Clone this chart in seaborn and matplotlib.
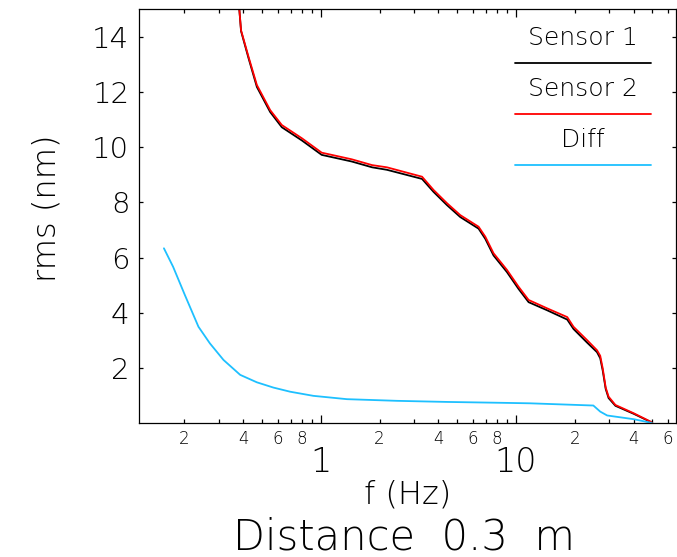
import math
import matplotlib
matplotlib.use("Agg")
import matplotlib.pyplot as plt
from matplotlib.ticker import FixedLocator, FuncFormatter
import pandas as pd
import seaborn as sns

# Cumulative rms (nm) versus frequency (Hz) for the two sensors
freq = [0.38, 0.39, 0.426, 0.47, 0.55, 0.631, 0.80, 1.01, 1.44, 1.83, 2.18,
        3.30, 3.78, 4.43, 5.18, 6.43, 6.96, 7.67, 8.98, 10.3, 11.6, 14.4,
        18.3, 19.7, 23.1, 26.0, 27.0, 27.8, 28.8, 29.8, 32.3, 40.1, 48.8, 50.0]
sensor1 = [15.2, 14.20, 13.22, 12.18, 11.27, 10.72, 10.24, 9.72, 9.48, 9.27, 9.18,
           8.85, 8.38, 7.90, 7.47, 7.05, 6.68, 6.08, 5.48, 4.87, 4.39, 4.10,
           3.76, 3.42, 2.93, 2.58, 2.36, 1.92, 1.25, 0.92, 0.64, 0.35, 0.06, 0.0]
sensor2 = [15.2, 14.23, 13.27, 12.25, 11.34, 10.80, 10.32, 9.80, 9.56, 9.35, 9.27,
           8.93, 8.45, 7.97, 7.54, 7.12, 6.76, 6.16, 5.56, 4.95, 4.47, 4.17,
           3.85, 3.50, 3.02, 2.65, 2.45, 2.00, 1.30, 0.97, 0.67, 0.37, 0.07, 0.0]

# Cumulative rms of the difference signal
freq_diff = [0.157, 0.175, 0.201, 0.236, 0.270, 0.317, 0.386, 0.470, 0.571, 0.696,
             0.916, 1.36, 2.45, 4.43, 8.98, 11.8, 24.9, 27.0, 29.3, 40.1, 48.8, 50.0]
diff = [6.34, 5.67, 4.65, 3.50, 2.90, 2.30, 1.76, 1.49, 1.30, 1.15,
        1.00, 0.88, 0.82, 0.78, 0.745, 0.73, 0.65, 0.43, 0.29, 0.155, 0.03, 0.0]

series_names = ["Sensor 1", "Sensor 2", "Diff"]
series_colors = ["#000000", "#ff0000", "#1ec0ff"]

y_ticks = [2, 4, 6, 8, 10, 12, 14]
x_major = [1, 10]
x_minor = [0.2, 0.3, 0.4, 0.5, 0.6, 0.7, 0.8, 0.9,
           2, 3, 4, 5, 6, 7, 8, 9, 20, 30, 40, 50, 60]

sns.set_style("ticks")
plt.rcParams["font.family"] = ["DejaVu Sans"]
plt.rcParams["font.weight"] = 200
plt.rcParams["axes.labelweight"] = 200
for key in ("text.color", "axes.labelcolor", "xtick.color", "ytick.color",
            "xtick.labelcolor", "ytick.labelcolor"):
    plt.rcParams[key] = "black"

fig = plt.figure(figsize=(6.77, 5.57), dpi=100)
ax = fig.add_axes([0.2053, 0.2397, 0.7932, 0.7442])

df = pd.DataFrame({"f": freq, "s1": sensor1, "s2": sensor2})
dd = pd.DataFrame({"f": freq_diff, "d": diff})
sns.lineplot(data=df, x="f", y="s1", color=series_colors[0], lw=1.3, ax=ax,
             estimator=None, sort=False)
sns.lineplot(data=df, x="f", y="s2", color=series_colors[1], lw=1.3, ax=ax,
             estimator=None, sort=False)
sns.lineplot(data=dd, x="f", y="d", color=series_colors[2], lw=1.3, ax=ax,
             estimator=None, sort=False)

ax.set_xscale("log")
ax.set_xlim(0.117, 66)
ax.set_ylim(0, 15)

ax.set_yticks(y_ticks)
ax.set_yticklabels([str(v) for v in y_ticks])
ax.xaxis.set_major_locator(FixedLocator(x_major))
ax.xaxis.set_major_formatter(FuncFormatter(lambda v, p: f"{v:g}"))
ax.xaxis.set_minor_locator(FixedLocator(x_minor))


def minor_label(v, p):
    lead = int(round(v / 10 ** math.floor(math.log10(v))))
    return str(lead) if lead in (2, 4, 6, 8) else ""


ax.xaxis.set_minor_formatter(FuncFormatter(minor_label))

for s in ax.spines.values():
    s.set_visible(True)
    s.set_linewidth(0.9)
    s.set_color("black")

ax.tick_params(axis="both", which="both", direction="in", top=True, right=True,
               color="black", width=0.9)
ax.tick_params(axis="x", which="major", length=6, pad=16.5, labelsize=24)
ax.tick_params(axis="x", which="minor", length=3.2, pad=5, labelsize=12)
ax.tick_params(axis="y", which="major", length=2.6, pad=7, labelsize=21)
ax.tick_params(axis="y", which="minor", length=0)

ax.set_xlabel("f (Hz)", fontsize=23, fontweight=200)
ax.xaxis.label.set_verticalalignment("baseline")
ax.xaxis.set_label_coords(0.5, -0.192)
ax.set_ylabel("rms (nm)", fontsize=23, fontweight=200)
ax.yaxis.label.set_verticalalignment("center")
ax.yaxis.set_label_coords(-0.172, 0.52)

fig.text(0.597, 0.0126, "Distance  0.3  m", fontsize=30, ha="center",
         va="baseline", fontweight=200)

# Legend: label text centred above a short sample line
text_y = [0.930, 0.807, 0.684]
line_y = [0.870, 0.747, 0.624]
for name, col, ty, ly in zip(series_names, series_colors, text_y, line_y):
    ax.text(0.827, ty, name, transform=ax.transAxes, ha="center", va="center",
            fontsize=18, fontweight=200)
    ax.plot([0.700, 0.953], [ly, ly], transform=ax.transAxes, color=col, lw=1.3)

fig.savefig("out.png", dpi=100)
